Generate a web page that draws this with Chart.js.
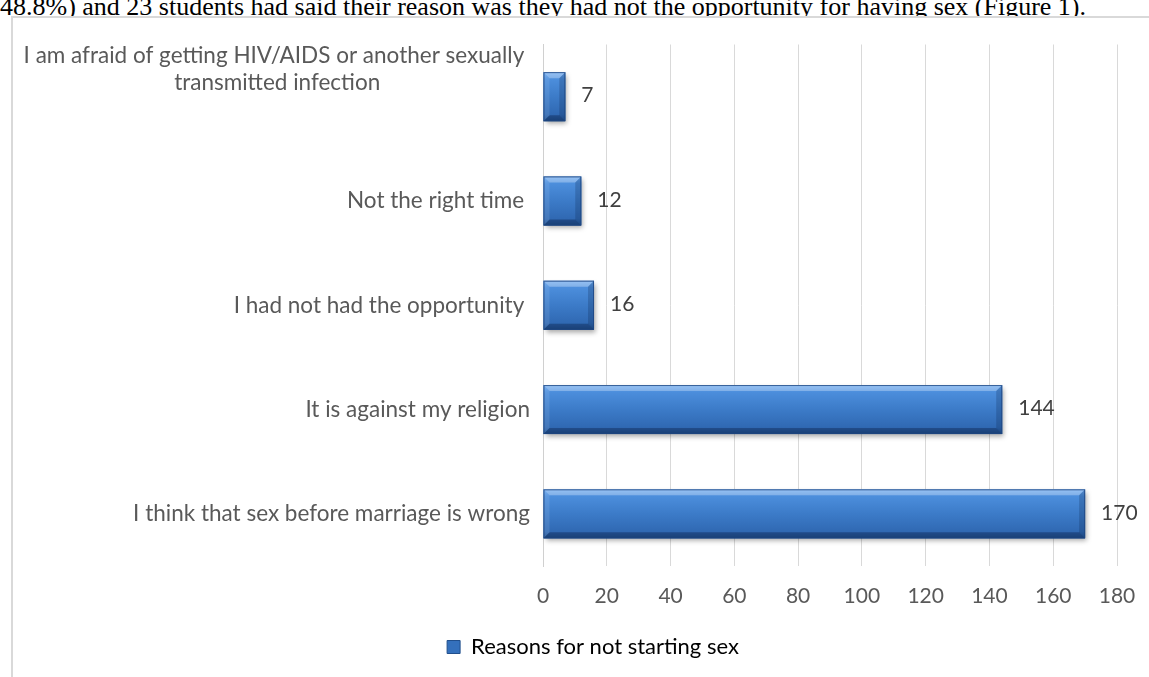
<!DOCTYPE html>
<html>
<head>
<meta charset="utf-8">
<script src="https://cdn.jsdelivr.net/npm/chart.js@4.4.1/dist/chart.umd.min.js"></script>
<style>
  html, body { margin: 0; padding: 0; background: #fff; width: 1149px; height: 677px; overflow: hidden; position: relative; }
  #caption { position: absolute; left: 0; top: -6px; white-space: nowrap; font-family: "Liberation Serif", "Times New Roman", serif; font-size: 26px; line-height: 26px; color: #000; }
  #frame { position: absolute; left: 11px; top: 16px; width: 1180px; height: 660px; border: 2px solid #d9d9d9; background: #fff; }
  #wrap { position: absolute; left: 13px; top: 18px; width: 1160px; height: 660px; }
</style>
</head>
<body>
<div id="caption">48.8%) and 23 students had said their reason was they had not the opportunity for having sex (Figure 1).</div>
<div id="frame"></div>
<div id="wrap"><canvas id="c" width="1160" height="660"></canvas></div>
<script>
const categories = [
  ["I am afraid of getting HIV/AIDS or another sexually ", "transmitted infection"],
  "Not the right time ",
  "I had not had the opportunity ",
  "It is against my religion",
  "I think that sex before marriage is wrong"
];
const seriesName = "Reasons for not starting sex";
const values = [7, 12, 16, 144, 170];
const xTicks = [0, 20, 40, 60, 80, 100, 120, 140, 160, 180];

const FONT = "Lato, 'Open Sans', sans-serif";
const BAR_PCT = 0.47;

function barGradient(c) {
  const chart = c.chart;
  const y = chart.scales && chart.scales.y;
  if (c.type !== 'data' || !y || y.getPixelForValue(0) == null) return '#3b78c4';
  const cy = y.getPixelForValue(c.dataIndex);
  const step = Math.abs(y.getPixelForValue(1) - y.getPixelForValue(0)) || 100;
  const half = step * BAR_PCT / 2;
  const g = chart.ctx.createLinearGradient(0, cy - half, 0, cy + half);
  g.addColorStop(0, '#6eaaf0');
  g.addColorStop(0.14, '#4c8edc');
  g.addColorStop(0.5, '#3c7bc8');
  g.addColorStop(0.86, '#3069b3');
  g.addColorStop(1, '#22528f');
  return g;
}

const bevelPlugin = {
  id: 'bevel',
  beforeDatasetsDraw(chart) {
    const ctx = chart.ctx;
    const meta = chart.getDatasetMeta(0);
    ctx.save();
    meta.data.forEach(el => {
      const l = Math.min(el.base, el.x), r = Math.max(el.base, el.x);
      const t = el.y - el.height / 2, h = el.height;
      ctx.shadowColor = 'rgba(0,0,0,0.35)';
      ctx.shadowBlur = 5;
      ctx.shadowOffsetX = 2;
      ctx.shadowOffsetY = 3;
      ctx.fillStyle = '#2a5a98';
      ctx.fillRect(l, t, r - l, h);
    });
    ctx.restore();
  },
  afterDatasetsDraw(chart) {
    const ctx = chart.ctx;
    const meta = chart.getDatasetMeta(0);
    ctx.save();
    meta.data.forEach(el => {
      const l = Math.min(el.base, el.x), r = Math.max(el.base, el.x);
      const t = el.y - el.height / 2, b = el.y + el.height / 2;
      const bv = Math.min(6, (r - l) / 3);
      const poly = (pts, fill) => {
        ctx.beginPath();
        ctx.moveTo(pts[0][0], pts[0][1]);
        for (let i = 1; i < pts.length; i++) ctx.lineTo(pts[i][0], pts[i][1]);
        ctx.closePath();
        ctx.fillStyle = fill;
        ctx.fill();
      };
      poly([[l, t], [r, t], [r - bv, t + bv], [l + bv, t + bv]], 'rgba(255,255,255,0.28)');
      poly([[l, b], [r, b], [r - bv, b - bv], [l + bv, b - bv]], 'rgba(10,30,70,0.35)');
      poly([[l, t], [l + bv, t + bv], [l + bv, b - bv], [l, b]], 'rgba(255,255,255,0.10)');
      poly([[r, t], [r - bv, t + bv], [r - bv, b - bv], [r, b]], 'rgba(10,30,70,0.22)');
      ctx.strokeStyle = 'rgba(30,70,130,0.8)';
      ctx.lineWidth = 1;
      ctx.strokeRect(l + 0.5, t + 0.5, r - l - 1, b - t - 1);
    });
    ctx.restore();
  }
};

const valueLabels = {
  id: 'valueLabels',
  afterDatasetsDraw(chart) {
    const ctx = chart.ctx;
    const meta = chart.getDatasetMeta(0);
    ctx.save();
    ctx.font = "21px " + FONT;
    ctx.fillStyle = '#404040';
    ctx.textAlign = 'left';
    ctx.textBaseline = 'middle';
    meta.data.forEach((el, i) => {
      ctx.fillText(String(values[i]), el.x + 16, el.y - 1);
    });
    ctx.restore();
  }
};

// multi-line label: second line roughly centred under the first, block raised like the original
function formatCategory(value, index) {
  const lab = categories[index];
  if (Array.isArray(lab)) {
    return [lab[0], lab[1] + ' '.repeat(26), '', ''];
  }
  return lab;
}

new Chart(document.getElementById('c'), {
  type: 'bar',
  data: {
    labels: categories,
    datasets: [{
      label: seriesName,
      data: values,
      backgroundColor: barGradient,
      borderWidth: 0,
      barPercentage: BAR_PCT,
      categoryPercentage: 1.0
    }]
  },
  options: {
    indexAxis: 'y',
    responsive: false,
    animation: false,
    devicePixelRatio: 1,
    layout: { padding: { top: 23, right: 0, left: 0, bottom: 10 } },
    plugins: {
      tooltip: { enabled: false },
      legend: {
        position: 'bottom',
        labels: {
          font: { family: FONT, size: 22 },
          color: '#595959',
          boxWidth: 13,
          boxHeight: 13,
          padding: 10,
          generateLabels: (chart) => [{
            text: seriesName,
            fillStyle: '#3470bc',
            strokeStyle: '#214f8c',
            lineWidth: 1,
            hidden: false,
            datasetIndex: 0
          }]
        }
      }
    },
    scales: {
      x: {
        min: 0,
        max: 180,
        afterBuildTicks: (s) => { s.ticks = xTicks.map(v => ({ value: v })); },
        afterFit: (s) => { s.height = 60; },
        grid: { color: '#d9d9d9', lineWidth: 1, drawTicks: false },
        border: { display: false },
        ticks: { font: { family: FONT, size: 21 }, color: '#595959', padding: 18 }
      },
      y: {
        afterFit: (s) => { s.width = 530; },
        grid: { display: false, drawTicks: false },
        border: { display: true, color: '#d0d0d0', width: 1 },
        ticks: { font: { family: FONT, size: 22.5 }, color: '#595959', padding: 13, autoSkip: false, callback: formatCategory }
      },
      yRightSpace: {
        axis: 'y',
        type: 'category',
        position: 'right',
        afterFit: (s) => { s.width = 56; },
        grid: { display: false, drawTicks: false },
        border: { display: false },
        ticks: { display: false }
      }
    }
  },
  plugins: [bevelPlugin, valueLabels]
});
</script>
</body>
</html>
